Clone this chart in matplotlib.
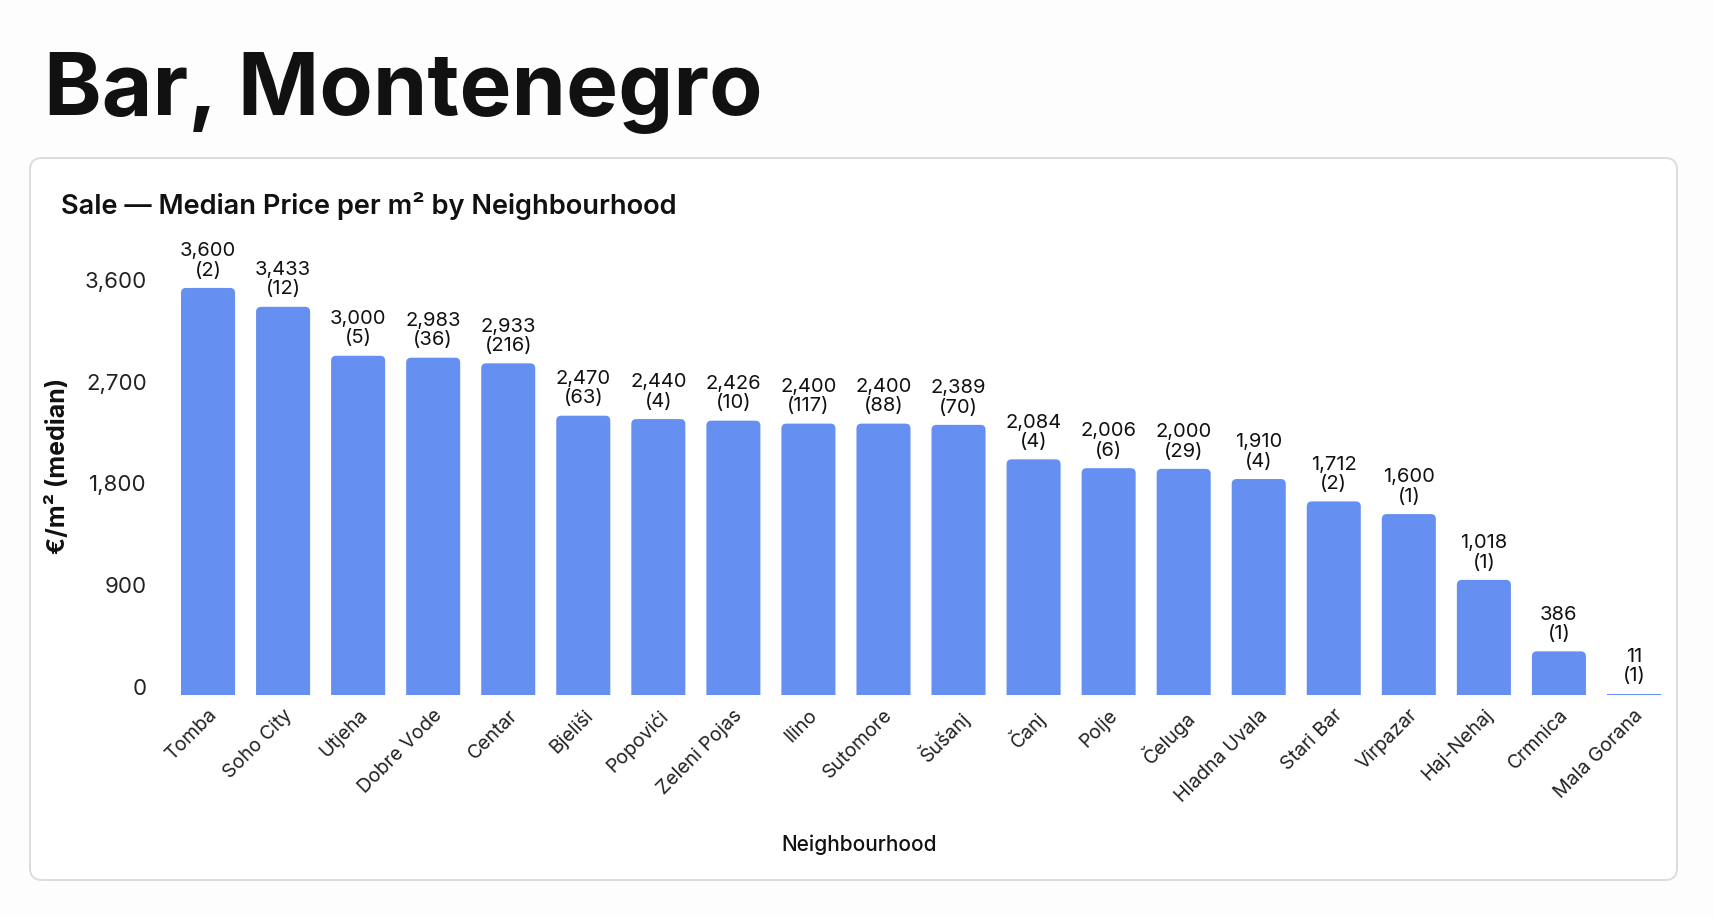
import numpy as np
import matplotlib
matplotlib.use("Agg")
import matplotlib.pyplot as plt
from matplotlib.patches import FancyBboxPatch

plt.rcParams['font.family'] = ['Inter', 'DejaVu Sans']

# Data
neighbourhoods = ["Tomba", "Soho City", "Utjeha", "Dobre Vode", "Centar", "Bjeliši",
                  "Popovići", "Zeleni Pojas", "Ilino", "Sutomore", "Šušanj", "Čanj",
                  "Polje", "Čeluga", "Hladna Uvala", "Stari Bar", "Virpazar",
                  "Haj-Nehaj", "Crmnica", "Mala Gorana"]
median_price = [3600, 3433, 3000, 2983, 2933, 2470, 2440, 2426, 2400, 2400, 2389,
                2084, 2006, 2000, 1910, 1712, 1600, 1018, 386, 11]
listings = [2, 12, 5, 36, 216, 63, 4, 10, 117, 88, 70, 4, 6, 29, 4, 2, 1, 1, 1, 1]
y_ticks = [0, 900, 1800, 2700, 3600]

BAR_COLOR = "#658ff0"
W, H = 1715, 917

fig = plt.figure(figsize=(W / 100, H / 100), dpi=100)
fig.patch.set_facecolor("#fdfdfd")

# card behind the chart
card = FancyBboxPatch((30 / W, 1 - 880 / H), (1677 - 30) / W, (880 - 158) / H,
                      boxstyle="round,pad=0,rounding_size=0.007",
                      mutation_aspect=W / H,
                      transform=fig.transFigure, facecolor="white",
                      edgecolor="#dcdcdc", linewidth=1.4, zorder=-5)
fig.patches.append(card)

fig.text(44 / W, 1 - 115 / H, "Bar, Montenegro", fontsize=62.9, fontweight="bold",
         color="#111111", va="baseline", ha="left")
fig.text(61 / W, 1 - 206 / H, "Sale — Median Price per m² by Neighbourhood",
         fontsize=19.6, fontweight="semibold", color="#111111", va="center", ha="left")

ax = fig.add_axes([170.5 / W, 1 - 695 / H, 1501 / W, (695 - 254) / H])
ax.set_facecolor("none")
ax.set_zorder(2)
x = np.arange(len(neighbourhoods))
ax.set_xlim(-0.5, len(neighbourhoods) - 0.5)
ax.set_ylim(0, 3900)

bars = ax.bar(x, median_price, width=0.72, color=BAR_COLOR, zorder=2)

# rounded top corners: rounded box reaching below y=0, clipped by the axes
fig.canvas.draw()
bbox = ax.get_window_extent()
x_per_px = (ax.get_xlim()[1] - ax.get_xlim()[0]) / bbox.width
y_per_px = (ax.get_ylim()[1] - ax.get_ylim()[0]) / bbox.height
r_px = 5
for rect in bars:
    h = rect.get_height()
    if h < 2 * r_px * y_per_px:
        continue
    rp = FancyBboxPatch((rect.get_x(), -2 * r_px * y_per_px), rect.get_width(),
                        h + 2 * r_px * y_per_px,
                        boxstyle=f"round,pad=0,rounding_size={r_px * x_per_px}",
                        mutation_aspect=y_per_px / x_per_px,
                        facecolor=BAR_COLOR, edgecolor="none", zorder=2)
    ax.add_patch(rp)
    rect.set_visible(False)

for xi, v, n in zip(x, median_price, listings):
    ax.annotate(f"{v:,}\n({n})", (xi, v), xytext=(0, 6), textcoords="offset points",
                ha="center", va="bottom", fontsize=14.5, linespacing=1.1,
                color="#111111", clip_on=False)

ax.set_xticks(x)
ax.set_xticklabels(neighbourhoods, rotation=45, ha="right", rotation_mode="anchor",
                   fontsize=14, color="#222222")
ax.set_yticks(y_ticks)
ax.set_yticklabels([f"{t:,}" for t in y_ticks], fontsize=16, color="#222222",
                   va="baseline")
ax.tick_params(axis="both", length=0)
ax.tick_params(axis="y", pad=17)
ax.tick_params(axis="x", pad=8)
for s in ax.spines.values():
    s.set_visible(False)

fig.text(58 / W, 1 - 466 / H, "€/m² (median)", rotation=90, fontsize=18,
         fontweight="bold", color="#111111", ha="center", va="center")
fig.text(859 / W, 1 - 845 / H, "Neighbourhood", fontsize=15, fontweight="medium",
         color="#111111", ha="center", va="center")

fig.savefig("out.png", dpi=100, facecolor=fig.get_facecolor())
